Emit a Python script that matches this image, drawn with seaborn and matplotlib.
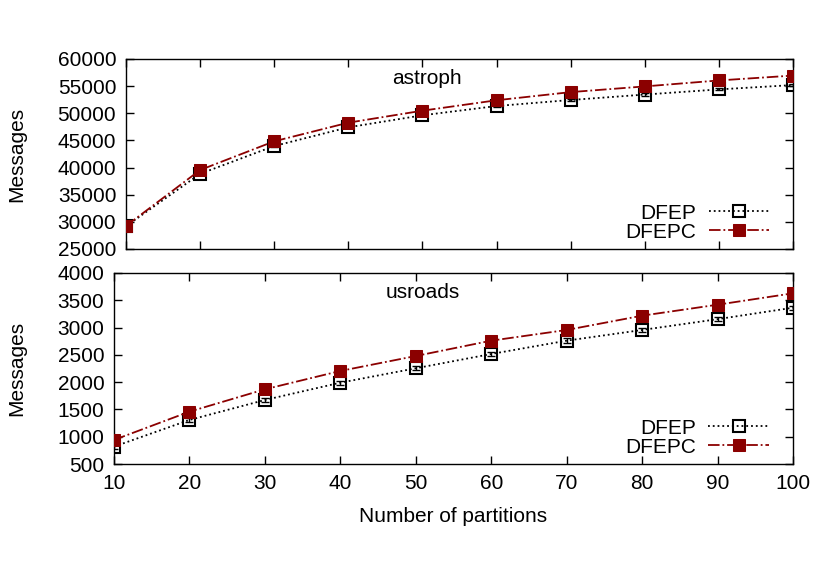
import numpy as np
import pandas as pd
import matplotlib
matplotlib.use('Agg')
import matplotlib.pyplot as plt
import seaborn as sns

sns.set_style('ticks')
plt.rcParams['font.family'] = ['Liberation Sans', 'DejaVu Sans']
plt.rcParams['text.color'] = 'black'
plt.rcParams['axes.labelcolor'] = 'black'
plt.rcParams['xtick.color'] = 'black'
plt.rcParams['ytick.color'] = 'black'

# --- data ---
partitions = [10, 20, 30, 40, 50, 60, 70, 80, 90, 100]

astroph_dfep = [29200, 38850, 43970, 47420, 49630, 51340, 52450, 53450, 54400, 55200]
astroph_dfepc = [29250, 39550, 44840, 48270, 50480, 52400, 53900, 54950, 56050, 56950]
astroph_err_dfep = [150, 200, 200, 200, 200, 200, 200, 200, 200, 200]
astroph_err_dfepc = [250, 500, 500, 500, 500, 500, 500, 500, 500, 500]

usroads_dfep = [818, 1307, 1673, 1990, 2254, 2516, 2760, 2956, 3154, 3364]
usroads_dfepc = [941, 1459, 1869, 2205, 2479, 2760, 2956, 3218, 3419, 3628]
usroads_err_dfep = [40, 40, 40, 40, 40, 40, 40, 40, 40, 40]
usroads_err_dfepc = [70, 70, 70, 70, 70, 70, 70, 70, 70, 70]

DARKRED = '#8b0000'
FS = 15

fig = plt.figure(figsize=(8.3, 5.81), dpi=100)
ax_top = fig.add_axes([126 / 830, 1 - 249 / 581, 667 / 830, 190 / 581])
ax_bot = fig.add_axes([114 / 830, 1 - 464 / 581, 679 / 830, 191 / 581])


def draw_panel(ax, dfep, dfepc, err_p, err_c, title, title_x):
    df = pd.DataFrame({'partitions': partitions * 2,
                       'messages': dfep + dfepc,
                       'method': ['DFEP'] * len(dfep) + ['DFEPC'] * len(dfepc)})
    # DFEP: black dotted, open squares
    ax.errorbar(partitions, dfep, yerr=err_p, fmt='none', ecolor='black',
                elinewidth=1, capsize=3, zorder=3)
    sns.lineplot(data=df[df.method == 'DFEP'], x='partitions', y='messages', ax=ax,
                 color='black', linestyle=':', linewidth=1.3, marker='s',
                 markersize=9, markerfacecolor='none', markeredgecolor='black',
                 markeredgewidth=1.5, label='DFEP', zorder=4)
    # DFEPC: dark red dash-dot, filled squares
    ax.errorbar(partitions, dfepc, yerr=err_c, fmt='none', ecolor=DARKRED,
                elinewidth=1.2, capsize=4, zorder=5)
    sns.lineplot(data=df[df.method == 'DFEPC'], x='partitions', y='messages', ax=ax,
                 color=DARKRED, linestyle='-.', linewidth=1.3, marker='s',
                 markersize=9, markerfacecolor=DARKRED, markeredgecolor=DARKRED,
                 label='DFEPC', zorder=6)
    ax.text(title_x, 0.9, title, transform=ax.transAxes, ha='center', va='center',
            fontsize=FS)
    ax.set_xlim(10, 100)
    ax.set_xticks(partitions)
    ax.set_ylabel('Messages', fontsize=FS)
    ax.yaxis.label.set_va('center')
    ax.tick_params(direction='in', length=6, width=1, top=True, right=True,
                   labelsize=FS, pad=7)
    for sp in ax.spines.values():
        sp.set_visible(True)
        sp.set_linewidth(1)
        sp.set_color('black')
    ax.legend(loc='lower right', bbox_to_anchor=(0.975, 0.0), frameon=False,
              markerfirst=False, fontsize=FS, handlelength=2.9, numpoints=1,
              borderaxespad=0.2, handletextpad=0.6, labelspacing=0.0, borderpad=0.15)


draw_panel(ax_top, astroph_dfep, astroph_dfepc, astroph_err_dfep, astroph_err_dfepc,
           'astroph', (427 - 126) / 667)
ax_top.set_ylim(25000, 60000)
ax_top.set_yticks(np.arange(25000, 60001, 5000))
ax_top.set_xticklabels([])
ax_top.set_xlabel('')
ax_top.yaxis.set_label_coords(17 / 830, 1 - 154 / 581, transform=fig.transFigure)

draw_panel(ax_bot, usroads_dfep, usroads_dfepc, usroads_err_dfep, usroads_err_dfepc,
           'usroads', (423 - 114) / 679)
ax_bot.set_ylim(500, 4000)
ax_bot.set_yticks(np.arange(500, 4001, 500))
ax_bot.set_xlabel('Number of partitions', fontsize=FS, labelpad=10)
ax_bot.yaxis.set_label_coords(17 / 830, 1 - 368 / 581, transform=fig.transFigure)

fig.savefig('out.png', dpi=100)
